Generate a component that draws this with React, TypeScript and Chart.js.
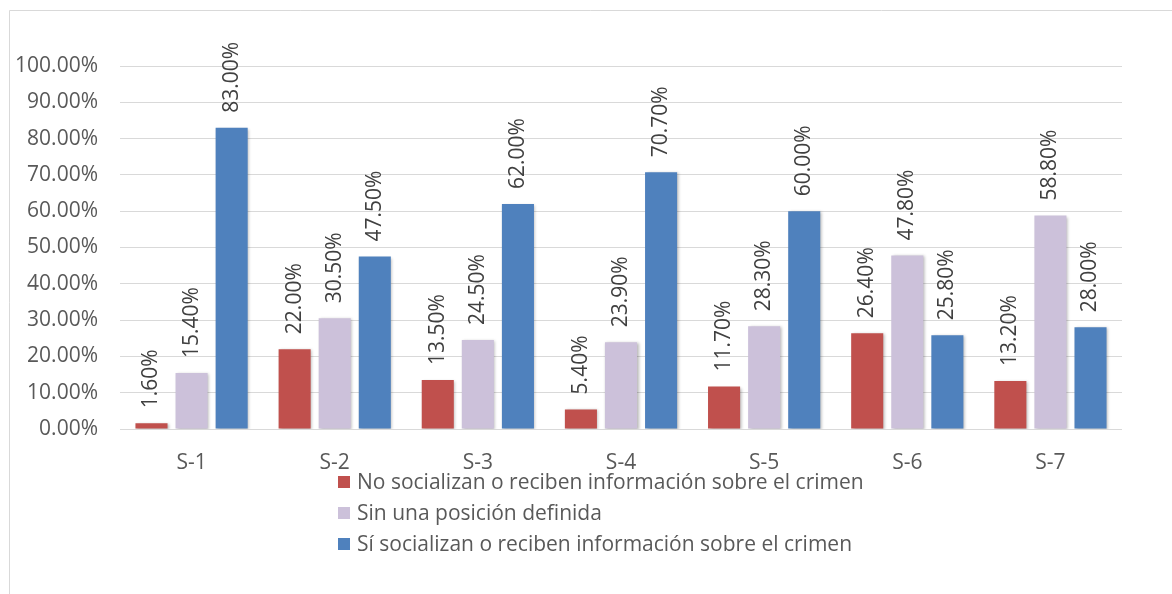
import React, { useEffect, useRef } from "react";
import { Chart, registerables } from "chart.js";

Chart.register(...registerables);

const categories = ["S-1", "S-2", "S-3", "S-4", "S-5", "S-6", "S-7"];
const seriesNames = [
  "No socializan o reciben información sobre el crimen",
  "Sin una posición definida",
  "Sí socializan o reciben información sobre el crimen",
];
const noSocializan = [1.6, 22.0, 13.5, 5.4, 11.7, 26.4, 13.2];
const sinPosicion = [15.4, 30.5, 24.5, 23.9, 28.3, 47.8, 58.8];
const siSocializan = [83.0, 47.5, 62.0, 70.7, 60.0, 25.8, 28.0];
const seriesColors = ["#c0504d", "#ccc1da", "#4f81bd"];
const yMin = 0;
const yMax = 100;
const yStep = 10;

const FONT = "'Open Sans', sans-serif";

export default function App() {
  const ref = useRef<HTMLCanvasElement | null>(null);

  useEffect(() => {
    if (!ref.current) return;

    const framePlugin = {
      id: "frame",
      beforeDraw(chart: any) {
        const ctx = chart.ctx;
        ctx.save();
        ctx.fillStyle = "#ffffff";
        ctx.fillRect(0, 0, chart.width, chart.height);
        ctx.strokeStyle = "#d9d9d9";
        ctx.lineWidth = 1;
        ctx.beginPath();
        ctx.moveTo(9.5, chart.height);
        ctx.lineTo(9.5, 10.5);
        ctx.lineTo(chart.width, 10.5);
        ctx.stroke();
        ctx.restore();
      },
    };

    const shadowPlugin = {
      id: "barShadow",
      beforeDatasetsDraw(chart: any) {
        const ctx = chart.ctx;
        ctx.save();
        ctx.shadowColor = "rgba(0,0,0,0.28)";
        ctx.shadowBlur = 3;
        ctx.shadowOffsetX = 1.5;
        ctx.shadowOffsetY = 1;
      },
      afterDatasetsDraw(chart: any) {
        chart.ctx.restore();
      },
    };

    const labelPlugin = {
      id: "valueLabels",
      afterDatasetsDraw(chart: any) {
        const ctx = chart.ctx;
        ctx.save();
        ctx.fillStyle = "#404040";
        ctx.font = `21px ${FONT}`;
        ctx.textAlign = "left";
        ctx.textBaseline = "middle";
        chart.data.datasets.forEach((ds: any, di: number) => {
          const meta = chart.getDatasetMeta(di);
          meta.data.forEach((bar: any, i: number) => {
            const v = ds.data[i] as number;
            ctx.save();
            ctx.translate(bar.x, bar.y - 15);
            ctx.rotate(-Math.PI / 2);
            ctx.fillText(v.toFixed(2) + "%", 0, 0);
            ctx.restore();
          });
        });
        ctx.restore();
      },
    };

    const legendPlugin = {
      id: "stackedLegend",
      afterDraw(chart: any) {
        const ctx = chart.ctx;
        const left = 338;
        const firstY = 482;
        const gap = 31;
        const box = 12;
        ctx.save();
        ctx.font = `21px ${FONT}`;
        ctx.textBaseline = "middle";
        ctx.textAlign = "left";
        chart.data.datasets.forEach((ds: any, i: number) => {
          const y = firstY + i * gap;
          ctx.fillStyle = ds.backgroundColor;
          ctx.fillRect(left, y - box / 2, box, box);
          ctx.fillStyle = "#595959";
          ctx.fillText(ds.label, left + box + 7, y + 1);
        });
        ctx.restore();
      },
    };

    const seriesData = [noSocializan, sinPosicion, siSocializan];

    const chart = new Chart(ref.current, {
      type: "bar",
      data: {
        labels: categories,
        datasets: seriesData.map((d, i) => ({
          label: seriesNames[i],
          data: d,
          backgroundColor: seriesColors[i],
          borderWidth: 0,
          categoryPercentage: 0.84,
          barPercentage: 0.8,
        })),
      },
      options: {
        responsive: false,
        animation: false,
        events: [],
        layout: { padding: { left: 0, right: 50, top: 66, bottom: 0 } },
        plugins: {
          legend: { display: false },
          tooltip: { enabled: false },
          title: { display: false },
        },
        scales: {
          x: {
            grid: { display: false },
            border: { display: false },
            ticks: {
              color: "#595959",
              font: { family: FONT, size: 21 },
              padding: 13,
            },
            afterFit(scale: any) {
              scale.height = 165;
            },
          },
          y: {
            min: yMin,
            max: yMax,
            grid: { color: "#d9d9d9", lineWidth: 1, drawTicks: false },
            border: { display: false },
            ticks: {
              stepSize: yStep,
              color: "#595959",
              font: { family: FONT, size: 21 },
              padding: 22,
              callback: (v: any) => Number(v).toFixed(2) + "%",
            },
            afterFit(scale: any) {
              scale.width = 120;
            },
          },
        },
      },
      plugins: [framePlugin, shadowPlugin, labelPlugin, legendPlugin],
    });

    return () => chart.destroy();
  }, []);

  return (
    <div style={{ position: "fixed", left: 0, top: 0, width: 1172, height: 594, background: "#fff" }}>
      <canvas ref={ref} width={1172} height={594} style={{ display: "block" }} />
    </div>
  );
}
